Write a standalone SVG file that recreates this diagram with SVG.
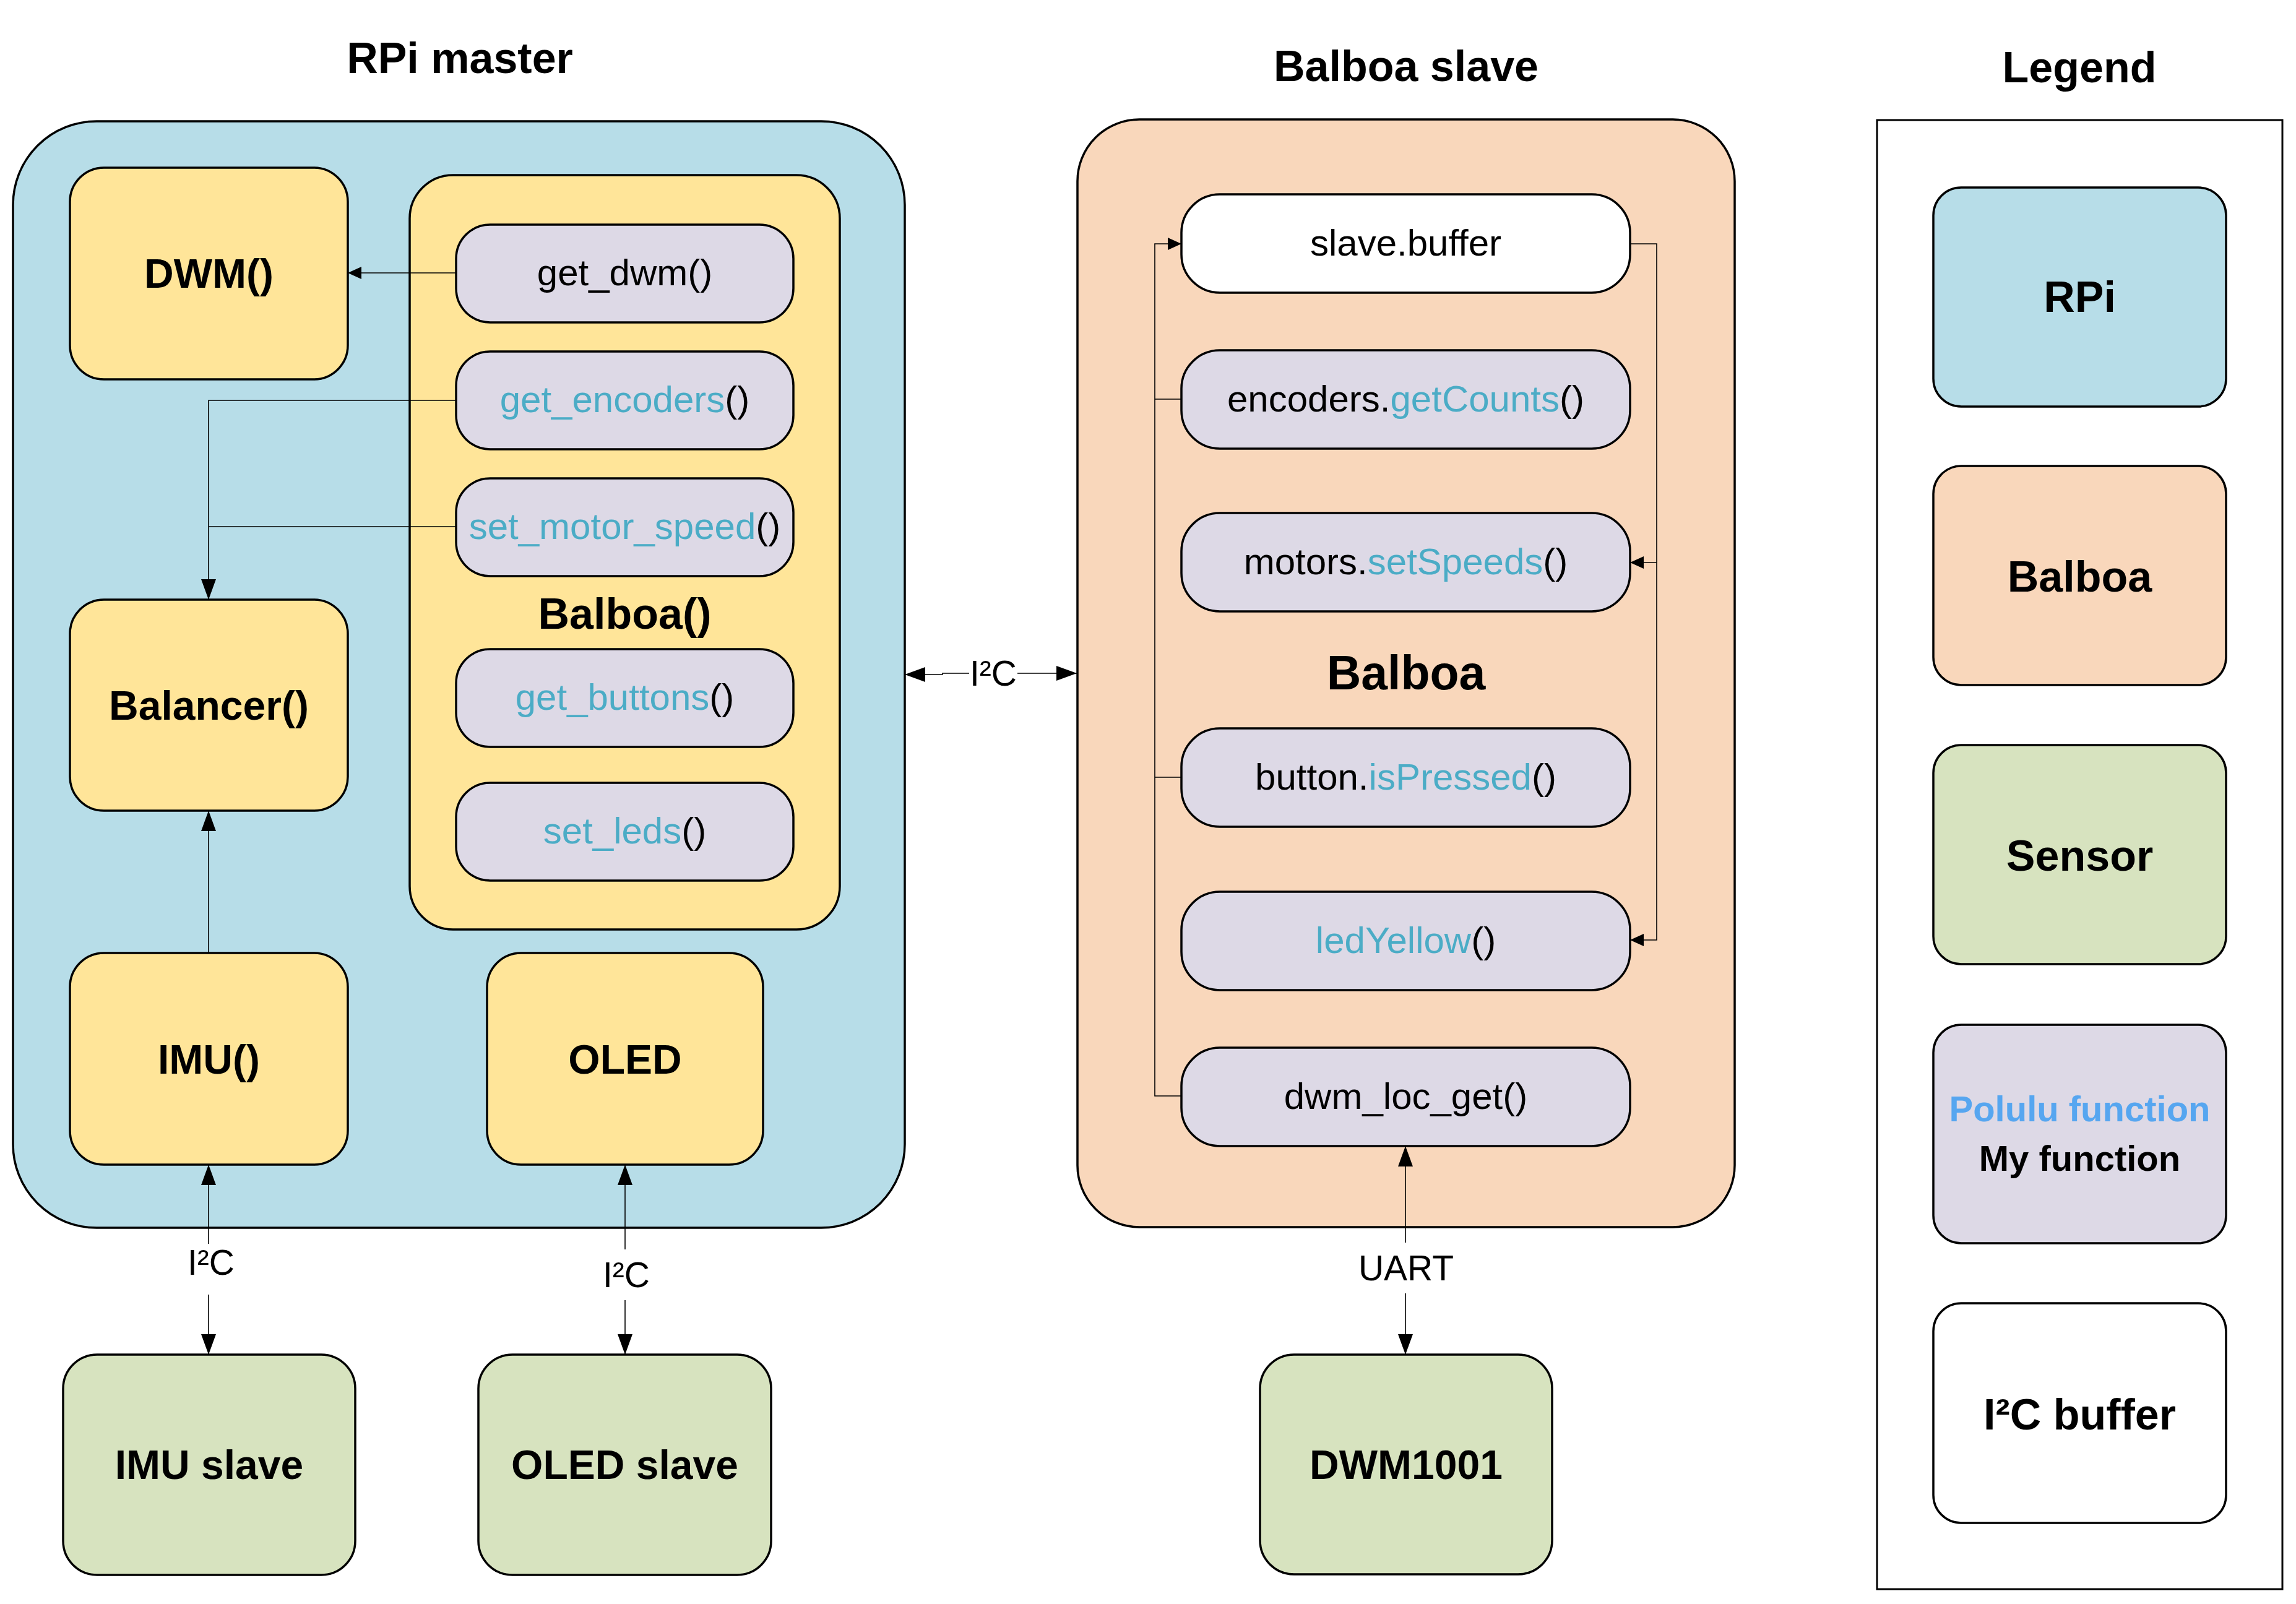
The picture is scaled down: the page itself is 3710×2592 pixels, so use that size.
<svg xmlns="http://www.w3.org/2000/svg" width="3710" height="2592" viewBox="0 0 3710 2592">
<style>
text{font-family:"Liberation Sans",Arial,sans-serif;text-anchor:middle;fill:#000}
.title{font-size:70px;font-weight:bold}
.node{font-size:66px;font-weight:bold}
.fn{font-size:60px}
.lbl{font-size:57px}
.leg{font-size:70px;font-weight:bold}
.legs{font-size:58px;font-weight:bold}
.t{fill:#4BACC6}
.box{stroke:#000;stroke-width:3.5}
.rpi{fill:#B7DDE8}
.yel{fill:#FFE599}
.bal{fill:#F9D7BB}
.sen{fill:#D7E3BF}
.pur{fill:#DDD9E6}
.wht{fill:#FFFFFF}
.conn path{fill:none;stroke:#000;stroke-width:1.6}
</style>
<defs>
<marker id="as" markerUnits="userSpaceOnUse" viewBox="0 0 22 20" refX="22" refY="10" markerWidth="22" markerHeight="20" orient="auto"><path d="M0 0L22 10L0 20z" fill="#000"/></marker>
<marker id="al" markerUnits="userSpaceOnUse" viewBox="0 0 33 24" refX="33" refY="12" markerWidth="33" markerHeight="24" orient="auto"><path d="M0 0L33 12L0 24z" fill="#000"/></marker>
</defs>
<rect width="3710" height="2592" fill="#fff"/>

<text class="title" x="743" y="118">RPi master</text>
<text class="title" x="2272" y="131">Balboa slave</text>
<text class="title" x="3360" y="133">Legend</text>

<g id="rpi-master"><rect class="box rpi" x="21" y="196" width="1441" height="1788" rx="135" ry="135"/></g>
<g id="dwm"><rect class="box yel" x="113" y="271" width="449" height="342" rx="55"/><text class="node" x="337.5" y="465">DWM()</text></g>
<g id="balboa-rpi"><rect class="box yel" x="662" y="283" width="695" height="1219" rx="70"/><text class="title" x="1009.5" y="1016">Balboa()</text></g>
<g id="get-dwm"><rect class="box pur" x="737" y="363" width="545" height="158" rx="55"/><text class="fn" x="1009.5" y="461">get_dwm()</text></g>
<g id="get-encoders"><rect class="box pur" x="737" y="568" width="545" height="158" rx="55"/><text class="fn" x="1009.5" y="666"><tspan class="t">get_encoders</tspan>()</text></g>
<g id="set-motor-speed"><rect class="box pur" x="737" y="773" width="545" height="158" rx="55"/><text class="fn" x="1009.5" y="871"><tspan class="t">set_motor_speed</tspan>()</text></g>
<g id="get-buttons"><rect class="box pur" x="737" y="1049" width="545" height="158" rx="55"/><text class="fn" x="1009.5" y="1147"><tspan class="t">get_buttons</tspan>()</text></g>
<g id="set-leds"><rect class="box pur" x="737" y="1265" width="545" height="158" rx="55"/><text class="fn" x="1009.5" y="1363"><tspan class="t">set_leds</tspan>()</text></g>
<g id="balancer"><rect class="box yel" x="113" y="969" width="449" height="341" rx="55"/><text class="node" x="337.5" y="1163">Balancer()</text></g>
<g id="imu"><rect class="box yel" x="113" y="1540" width="449" height="342" rx="55"/><text class="node" x="337.5" y="1735">IMU()</text></g>
<g id="oled"><rect class="box yel" x="787" y="1540" width="446" height="342" rx="55"/><text class="node" x="1010" y="1735">OLED</text></g>
<g id="imu-slave"><rect class="box sen" x="102" y="2189" width="472" height="356" rx="55"/><text class="node" x="338" y="2390">IMU slave</text></g>
<g id="oled-slave"><rect class="box sen" x="773" y="2189" width="473" height="356" rx="55"/><text class="node" x="1009.5" y="2390">OLED slave</text></g>

<g id="balboa-slave"><rect class="box bal" x="1741" y="193" width="1062" height="1790" rx="100" ry="100"/><text x="2272" y="1114" style="font-size:77px;font-weight:bold">Balboa</text></g>
<g id="slave-buffer"><rect class="box wht" x="1909" y="314" width="725" height="159" rx="62"/><text class="fn" x="2271.5" y="413">slave.buffer</text></g>
<g id="encoders-getcounts"><rect class="box pur" x="1909" y="566" width="725" height="159" rx="62"/><text class="fn" x="2271.5" y="665">encoders.<tspan class="t">getCounts</tspan>()</text></g>
<g id="motors-setspeeds"><rect class="box pur" x="1909" y="829" width="725" height="159" rx="62"/><text class="fn" x="2271.5" y="928">motors.<tspan class="t">setSpeeds</tspan>()</text></g>
<g id="button-ispressed"><rect class="box pur" x="1909" y="1177" width="725" height="159" rx="62"/><text class="fn" x="2271.5" y="1276">button.<tspan class="t">isPressed</tspan>()</text></g>
<g id="ledyellow"><rect class="box pur" x="1909" y="1441" width="725" height="159" rx="62"/><text class="fn" x="2271.5" y="1540"><tspan class="t">ledYellow</tspan>()</text></g>
<g id="dwm-loc-get"><rect class="box pur" x="1909" y="1693" width="725" height="159" rx="62"/><text class="fn" x="2271.5" y="1792">dwm_loc_get()</text></g>
<g id="dwm1001"><rect class="box sen" x="2036" y="2189" width="472" height="355" rx="55"/><text class="node" x="2272" y="2390">DWM1001</text></g>

<g id="legend"><rect x="3033" y="194" width="655" height="2374" fill="#fff" stroke="#000" stroke-width="3"/></g>
<g id="legend-rpi"><rect class="box rpi" x="3124" y="303" width="473" height="354" rx="45"/><text class="leg" x="3360.5" y="504">RPi</text></g>
<g id="legend-balboa"><rect class="box bal" x="3124" y="753" width="473" height="354" rx="45"/><text class="leg" x="3360.5" y="956">Balboa</text></g>
<g id="legend-sensor"><rect class="box sen" x="3124" y="1204" width="473" height="354" rx="45"/><text class="leg" x="3360.5" y="1407">Sensor</text></g>
<g id="legend-function"><rect class="box pur" x="3124" y="1656" width="473" height="353" rx="45"/><text class="legs" x="3360.5" y="1812" style="fill:#56A6F0">Polulu function</text><text class="legs" x="3360.5" y="1892">My function</text></g>
<g id="legend-buffer"><rect class="box wht" x="3124" y="2106" width="473" height="355" rx="45"/><text class="leg" x="3360.5" y="2310">I²C buffer</text></g>

<g id="connectors" class="conn">
<path d="M737 441H562" marker-end="url(#as)"/>
<path d="M737 647H337V969" marker-end="url(#al)"/>
<path d="M737 851H337"/>
<path d="M337 1540V1310" marker-end="url(#al)"/>
<path d="M337 2010V1882" marker-end="url(#al)"/>
<path d="M337 2092V2189" marker-end="url(#al)"/>
<path d="M1010 2019V1882" marker-end="url(#al)"/>
<path d="M1010 2101V2189" marker-end="url(#al)"/>
<path d="M1566 1088H1523V1090H1462" marker-end="url(#al)"/>
<path d="M1644 1088H1740" marker-end="url(#al)"/>
<path d="M1909 1771H1866V394H1909" marker-end="url(#as)"/>
<path d="M1909 645H1866"/>
<path d="M1909 1256H1866"/>
<path d="M2634 394H2677V1519H2634" marker-end="url(#as)"/>
<path d="M2677 909H2634" marker-end="url(#as)"/>
<path d="M2271 2008V1852" marker-end="url(#al)"/>
<path d="M2271 2090V2189" marker-end="url(#al)"/>
</g>
<g id="connector-labels">
<text class="lbl" x="341" y="2060">I²C</text>
<text class="lbl" x="1012" y="2080">I²C</text>
<text class="lbl" x="1605" y="1108">I²C</text>
<text class="lbl" x="2272" y="2069">UART</text>
</g>
</svg>
